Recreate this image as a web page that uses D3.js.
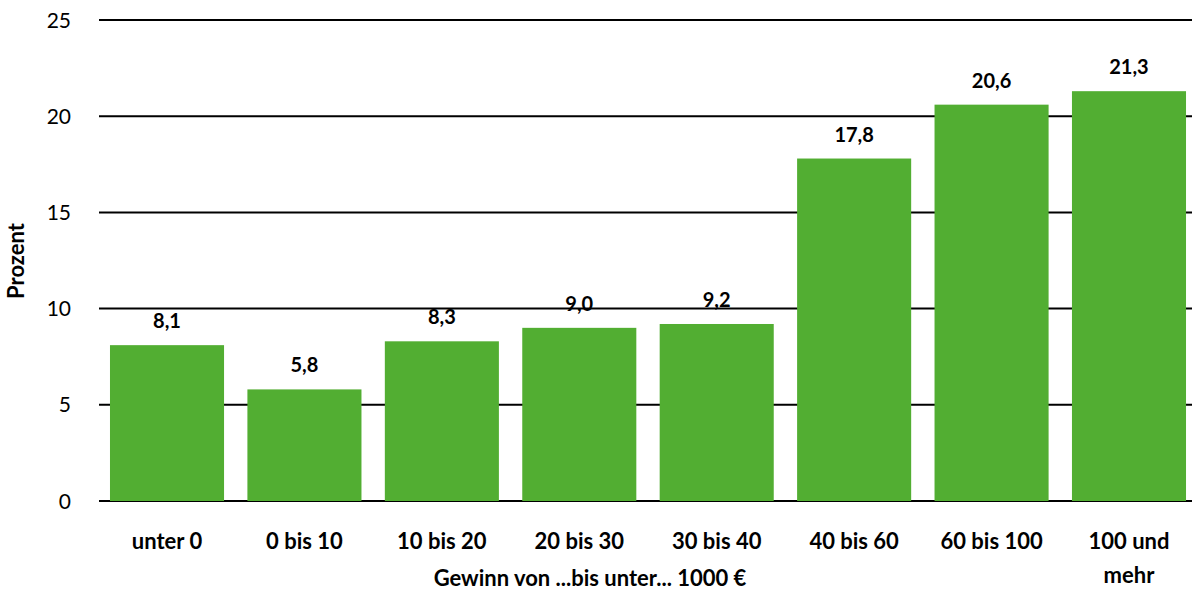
<!DOCTYPE html>
<html><head><meta charset="utf-8">
<script src="https://cdnjs.cloudflare.com/ajax/libs/d3/7.8.5/d3.min.js"></script>
<style>body{margin:0;background:#fff}svg{display:block}text{font-family:Lato,"Open Sans",sans-serif}</style>
</head><body><svg id="c" width="1192" height="590"></svg>
<script>
const categories = ["unter 0","0 bis 10","10 bis 20","20 bis 30","30 bis 40","40 bis 60","60 bis 100","100 und mehr"];
const values = [8.1,5.8,8.3,9.0,9.2,17.8,20.6,21.3];
const yTicks = [0,5,10,15,20,25];
const xTitle = "Gewinn von ...bis unter... 1000 €";
const yTitle = "Prozent";

const svg = d3.select("#c");
const x = d3.scaleBand().domain(categories).range([98.3,1197.7]).paddingInner(0.17).paddingOuter(0.085);
const y = d3.scaleLinear().domain([0,25]).range([501,20]);

svg.append("g").selectAll("line").data(yTicks).join("line")
  .attr("x1",99).attr("x2",1198).attr("y1",d=>y(d)).attr("y2",d=>y(d))
  .attr("stroke","#000").attr("stroke-width",2);
svg.append("g").selectAll("text").data(yTicks).join("text")
  .attr("x",71).attr("y",d=>y(d)).attr("dy","0.36em").attr("text-anchor","end")
  .attr("font-size",21).text(d=>d);

svg.append("g").selectAll("rect").data(values).join("rect")
  .attr("x",(d,i)=>x(categories[i])).attr("width",x.bandwidth())
  .attr("y",d=>y(d)).attr("height",d=>y(0)-y(d)).attr("fill","#52AE32");

svg.append("g").selectAll("text").data(values).join("text")
  .attr("x",(d,i)=>x(categories[i])+x.bandwidth()/2).attr("y",d=>y(d)-17)
  .attr("text-anchor","middle").attr("font-size",20).attr("font-weight","bold")
  .text(d=>d.toFixed(1).replace(".",","));

const cl = svg.append("g").selectAll("text").data(categories).join("text")
  .attr("x",d=>x(d)+x.bandwidth()/2).attr("y",549)
  .attr("text-anchor","middle").attr("font-size",22).attr("font-weight","bold");
cl.each(function(d){
  const t=d3.select(this);
  if(d==="100 und mehr"){
    t.append("tspan").attr("x",x(d)+x.bandwidth()/2).text("100 und");
    t.append("tspan").attr("x",x(d)+x.bandwidth()/2).attr("dy",34).text("mehr");
  } else t.text(d);
});

svg.append("text").attr("x",590).attr("y",586).attr("text-anchor","middle")
  .attr("font-size",22).attr("font-weight","bold").text(xTitle);
svg.append("text").attr("transform","translate(24,261) rotate(-90)").attr("text-anchor","middle")
  .attr("font-size",22).attr("font-weight","bold").text(yTitle);
</script></body></html>
